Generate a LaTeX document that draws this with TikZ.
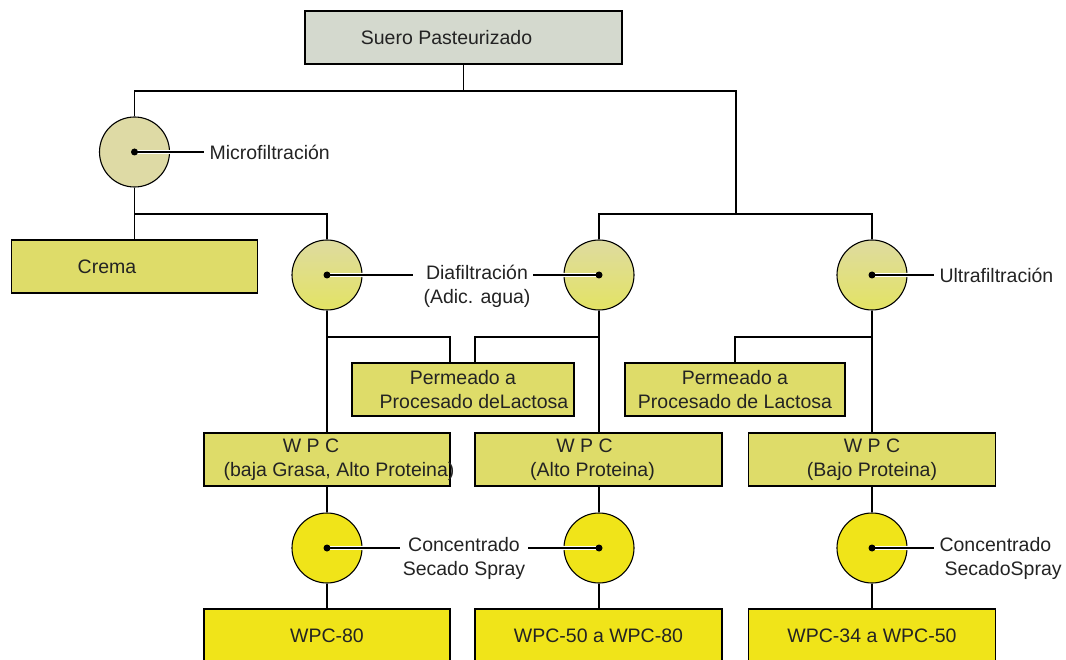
\documentclass[tikz,border=0pt]{standalone}
\usepackage{fontspec}
\setmainfont{Liberation Sans}
\definecolor{sueroGris}{RGB}{212,217,206}
\definecolor{paleYellow}{RGB}{222,220,105}
\definecolor{microBeige}{RGB}{222,218,165}
\definecolor{diaTop}{RGB}{222,219,160}
\definecolor{diaBot}{RGB}{227,227,100}
\definecolor{brightYellow}{RGB}{240,228,25}
\definecolor{inkGray}{RGB}{35,35,35}
\newcommand\fs{\fontsize{19.5}{23.5}\selectfont}
\tikzset{
  procbox/.style={draw, minimum height=53pt, inner sep=0pt, align=center, font=\fs, text=inkGray},
  grey box/.style={procbox, fill=sueroGris},
  pale box/.style={procbox, fill=paleYellow},
  bright box/.style={procbox, fill=brightYellow, minimum height=56pt},
  filter/.style={circle, draw, minimum size=70pt, inner sep=0pt},
  lbl/.style={font=\fs, align=center, inner xsep=5pt, inner ysep=0pt, text=inkGray},
  halo/.style={white, line width=4pt}
}
\begin{document}
\begin{tikzpicture}[x=1pt, y=-1pt, line width=1.1pt]
    \useasboundingbox (0,0) rectangle (1066,660);
    \node[grey box, minimum width=317pt] (suero) at (463.5,37.5) {Suero Pasteurizado\hspace*{34pt}};
    \node[filter, fill=microBeige] (micro) at (134.5,152) {};
    \node[pale box, minimum width=246pt] (crema) at (134.5,266.5) {Crema\hspace*{55pt}};
    \node[filter, top color=diaTop, bottom color=diaBot] (diaL) at (327,275) {};
    \node[filter, top color=diaTop, bottom color=diaBot] (diaM) at (599,275) {};
    \node[filter, top color=diaTop, bottom color=diaBot] (ultra) at (872,275) {};
    \node[pale box, minimum width=222pt] (permA) at (463,389.5) {Permeado a\\\hspace*{22pt}Procesado deLactosa};
    \node[pale box, minimum width=220pt] (permB) at (735,389.5) {Permeado a\\Procesado de Lactosa};
    \node[pale box, minimum width=246pt] (wpcA) at (327,459.5) {W P C\hspace*{32pt}\\\makebox[0pt]{\hspace*{24pt}(baja Grasa, Alto Proteina)}};
    \node[pale box, minimum width=247pt] (wpcB) at (598.5,459.5) {W P C\hspace*{28pt}\\(Alto Proteina)\hspace*{12pt}};
    \node[pale box, minimum width=247pt] (wpcC) at (872,459.5) {W P C\\(Bajo Proteina)};
    \node[filter, fill=brightYellow] (concA) at (327,548) {};
    \node[filter, fill=brightYellow] (concB) at (599,548) {};
    \node[filter, fill=brightYellow] (concC) at (872,548) {};
    \node[bright box, minimum width=246pt] (finA) at (327,637) {\raisebox{3pt}{WPC-80}};
    \node[bright box, minimum width=247pt] (finB) at (598.5,637) {\raisebox{3pt}{WPC-50 a WPC-80}};
    \node[bright box, minimum width=247pt] (finC) at (872,637) {\raisebox{3pt}{WPC-34 a WPC-50}};
    \node[lbl, anchor=west] (microLbl) at (204,152) {Microfiltración};
    \node[lbl, inner xsep=2pt] (diaLbl) at (477,286.5) {Diafiltración\\(Adic. agua)};
    \node[lbl, anchor=west] (ultraLbl) at (934,275) {Ultrafiltración};
    \node[lbl, inner xsep=2pt] (concLblA) at (464,558.5) {Concentrado\\Secado Spray};
    \node[lbl, anchor=west, align=left] (concLblC) at (934,558.5) {Concentrado\\\hspace*{5pt}SecadoSpray};
    \coordinate (split) at (736,91);
    \coordinate (fork) at (736,214);
    \coordinate (permRow) at (0,337);
    \draw (suero.south) -- (suero.south |- split);
    \draw (micro.north) |- (split) -- (fork);
    \draw (diaM.north) |- (fork) -| (ultra.north);
    \draw (micro.south) -- (crema.north);
    \draw (micro.south |- fork) -| (diaL.north);
    \draw (diaL.south) -- (wpcA.north);
    \draw (diaM.south) -- (diaM.south |- wpcB.north);
    \draw (ultra.south) -- (wpcC.north);
    \draw (diaL.south |- permRow) -| ([xshift=-13pt]permA.north);
    \draw (diaM.south |- permRow) -| ([xshift=12pt]permA.north);
    \draw (ultra.south |- permRow) -| (permB.north);
    \draw (wpcA.south) -- (concA.north);
    \draw (concA.south) -- (finA.north);
    \draw (concB |- wpcB.south) -- (concB.north);
    \draw (concB.south) -- (concB.south |- finB.north);
    \draw (wpcC.south) -- (concC.north);
    \draw (concC.south) -- (finC.north);
    \draw[halo] (micro.center) -- (micro.east);
    \draw[halo] (diaL.center) -- (diaL.east);
    \draw[halo] (diaM.center) -- (diaM.west);
    \draw[halo] (ultra.center) -- (ultra.east);
    \draw[halo] (concA.center) -- (concA.east);
    \draw[halo] (concB.center) -- (concB.west);
    \draw[halo] (concC.center) -- (concC.east);
    \draw (micro.center) -- (microLbl.west);
    \draw (diaL.center) -- ([xshift=-8pt]diaL.center -| diaLbl.west);
    \draw (diaM.center) -- (diaM.center -| diaLbl.east);
    \draw (ultra.center) -- (ultraLbl.west);
    \draw (concA.center) -- (concA.center -| concLblA.west);
    \draw (concB.center) -- (concB.center -| concLblA.east);
    \draw (concC.center) -- (concC.center -| concLblC.west);
    \foreach \c in {micro, diaL, diaM, ultra, concA, concB, concC}
        \fill (\c.center) circle (3.5pt);
\end{tikzpicture}
\end{document}
